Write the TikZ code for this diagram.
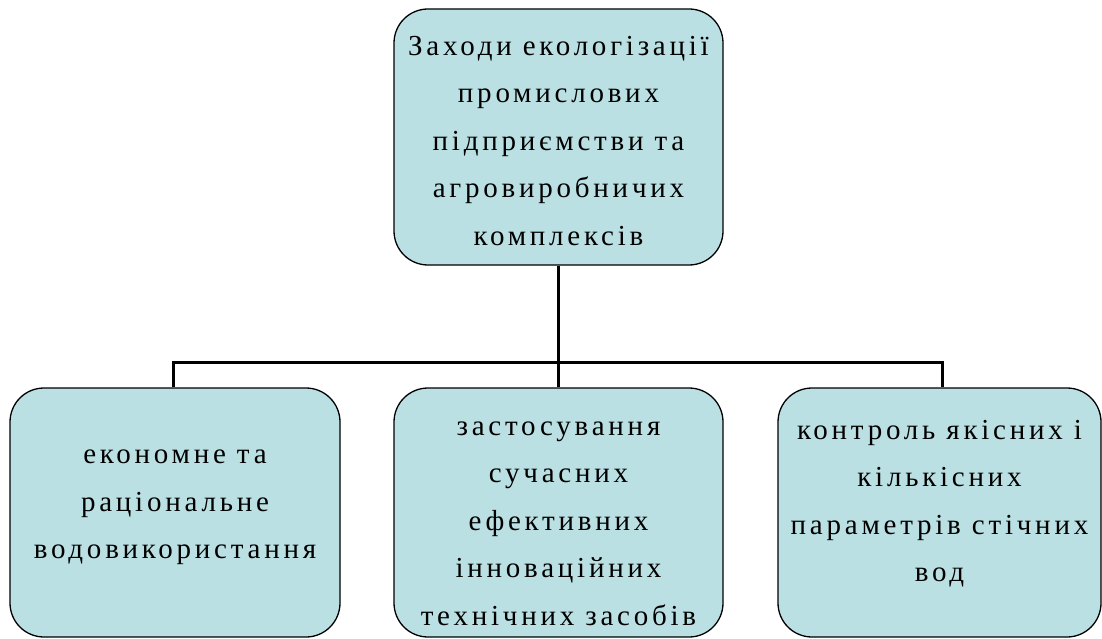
\documentclass[tikz,border=0pt]{standalone}
\usepackage{fontspec}
\setmainfont{Liberation Serif}
\newfontfamily\boxfont[LetterSpace=13]{Liberation Serif}
\definecolor{boxfill}{RGB}{187,224,227}
\begin{document}
\begin{tikzpicture}[x=1pt,y=-1pt,
  box/.style={draw=black,line width=1.3pt,fill=boxfill,rounded corners=34pt,inner sep=0pt},
  txt/.style={align=center,inner sep=0pt,font=\boxfont\fontsize{29}{47.5}\selectfont},
  conn/.style={draw=black,line width=3pt}]
\useasboundingbox (0,0) rectangle (1102,639);
\node[box,minimum width=329pt,minimum height=256pt] (top) at (558.5,137) {};
\node[box,minimum width=330pt,minimum height=249pt] (left) at (175,512.5) {};
\node[box,minimum width=329pt,minimum height=249pt] (mid) at (558.5,512.5) {};
\node[box,minimum width=323pt,minimum height=249pt] (right) at (939.5,512.5) {};
\node[txt] (topt) at ([yshift=-4pt]top.center)
  {Заходи екологізації\\промислових\\підприємстви та\\агровиробничих\\комплексів};
\node[txt] (leftt) at ([yshift=5pt]left.center)
  {економне та\\раціональне\\водовикористання};
\node[txt] (midt) at ([yshift=-11pt]mid.center)
  {застосування\\сучасних\\ефективних\\інноваційних\\технічних засобів};
\node[txt] (rightt) at ([yshift=9pt]right.center)
  {контроль якісних і\\кількісних\\параметрів стічних\\вод};
\coordinate (j) at (558.5,362);
\draw[conn] (top.south) -- (mid.north);
\draw[conn] (left.north -| 173,0) |- (j) -| (right.north -| 942,0);
\end{tikzpicture}
\end{document}
